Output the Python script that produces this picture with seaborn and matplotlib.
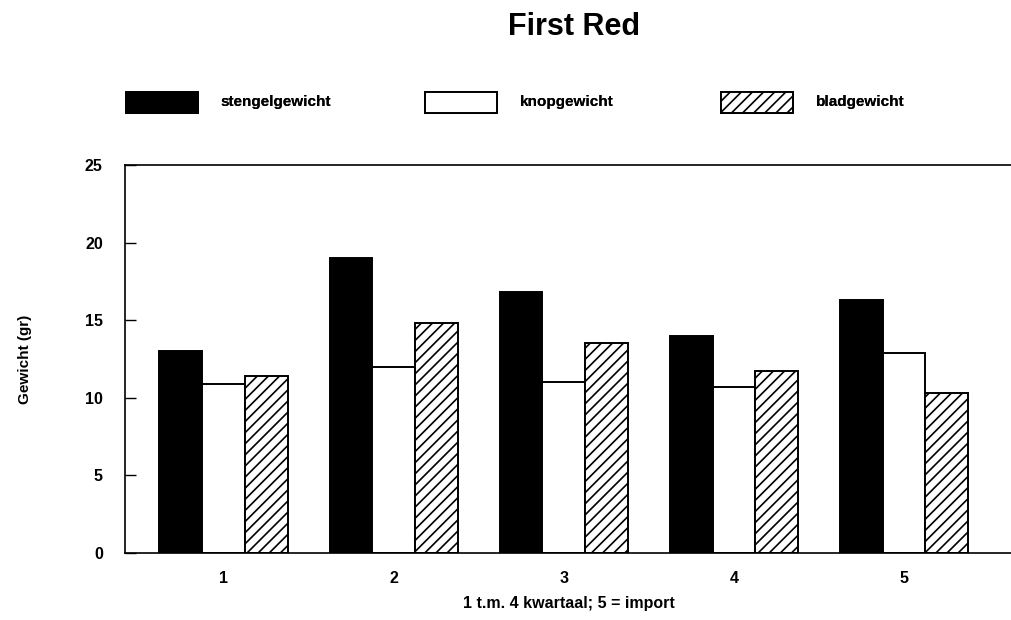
import matplotlib
matplotlib.use("Agg")
import matplotlib.pyplot as plt
import seaborn as sns
import pandas as pd

# Gemiddeld gewicht per kwartaal (1-4) en import (5)
kwartalen = ["1", "2", "3", "4", "5"]
stengelgewicht = [13.0, 19.0, 16.8, 14.0, 16.3]
knopgewicht = [10.9, 12.0, 11.0, 10.7, 12.9]
bladgewicht = [11.4, 14.8, 13.5, 11.7, 10.3]
reeksen = ["stengelgewicht", "knopgewicht", "bladgewicht"]
y_ticks = [0, 5, 10, 15, 20, 25]

sns.set_theme(style="white")
plt.rcParams["font.family"] = ["Liberation Sans", "DejaVu Sans"]
plt.rcParams["font.weight"] = "bold"
plt.rcParams["hatch.linewidth"] = 1.2
plt.rcParams["hatch.color"] = "black"
for key in ["text.color", "axes.labelcolor", "xtick.color", "ytick.color"]:
    plt.rcParams[key] = "black"

df = pd.DataFrame({
    "kwartaal": kwartalen * 3,
    "gewicht": stengelgewicht + knopgewicht + bladgewicht,
    "soort": [r for r in reeksen for _ in kwartalen],
})

fig = plt.figure(figsize=(10.12, 6.2), dpi=100)
ax = fig.add_axes([125 / 1012, 1 - 553 / 620, 1 - 125 / 1012, 388 / 620])

sns.barplot(
    data=df, x="kwartaal", y="gewicht", hue="soort", hue_order=reeksen,
    palette=["black", "white", "white"], saturation=1, width=0.755,
    edgecolor="black", linewidth=1.4, errorbar=None, ax=ax, legend=False,
)
for patch in ax.containers[2]:
    patch.set_hatch("///")

ax.set_xlim(-0.58, 4.635)
ax.set_ylim(0, 25)
ax.set_yticks(y_ticks)
ax.set_yticklabels([str(t) for t in y_ticks], fontsize=11.5, fontweight="bold")
ax.set_xticks(range(len(kwartalen)))
ax.set_xticklabels(kwartalen, fontsize=11.5, fontweight="bold")
ax.tick_params(axis="y", direction="in", length=8, width=1, color="black", pad=16, left=True)
ax.tick_params(axis="x", length=0, pad=13)

for side in ["left", "bottom", "top"]:
    ax.spines[side].set_visible(True)
    ax.spines[side].set_color("black")
    ax.spines[side].set_linewidth(1.2)
ax.spines["right"].set_visible(False)

ax.set_xlabel("1 t.m. 4 kwartaal; 5 = import", fontsize=11.5, fontweight="bold", labelpad=7)
ax.set_ylabel("Gewicht (gr)", fontsize=11, fontweight="bold", labelpad=38)

fig.text(574 / 1012, 1 - 27 / 620, "First Red", ha="center", va="center",
         fontsize=22, fontweight="bold")

# Legenda: drie losse items op vaste posities
handles = [ax.containers[i][0] for i in range(3)]
x_posities = [126 / 1012, 425 / 1012, 721 / 1012]
for h, label, xp in zip(handles, reeksen, x_posities):
    leg = fig.legend(
        [h], [label], loc="center left", bbox_to_anchor=(xp, 1 - 102.5 / 620),
        frameon=False, handlelength=6.5, handleheight=2.6,
        handletextpad=2.0, borderpad=0, borderaxespad=0,
        prop={"weight": "bold", "size": 8},
    )
    fig.add_artist(leg)
for leg in fig.legends:
    for t in leg.get_texts():
        t.set_fontsize(11)

fig.savefig("out.png", dpi=100, facecolor="white")
